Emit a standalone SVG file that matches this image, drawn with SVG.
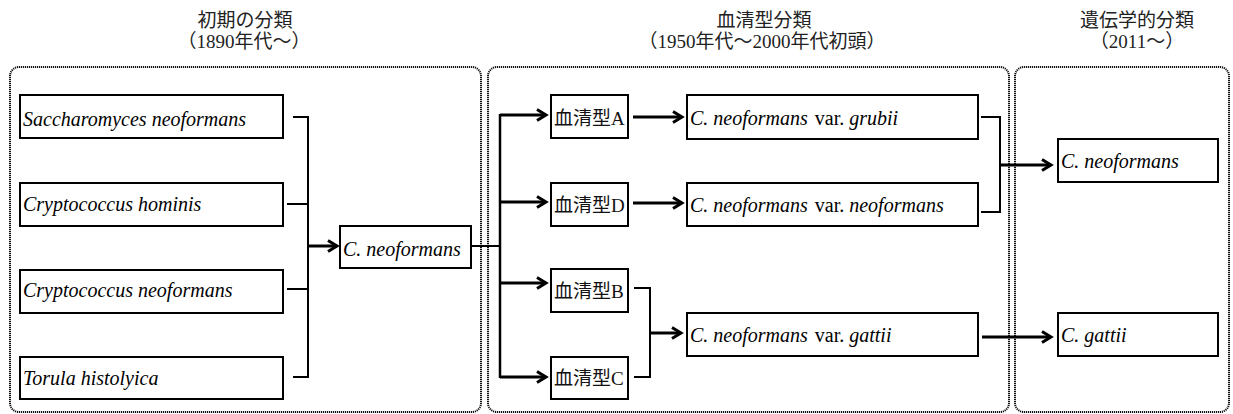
<svg xmlns="http://www.w3.org/2000/svg" width="1233" height="414" viewBox="0 0 1233 414">
<defs>
<style>
.panel{fill:none;stroke:#111;stroke-width:2;stroke-dasharray:1.2 0.8}
.box{fill:#fff;stroke:#000;stroke-width:2}
.f{font-family:'Liberation Serif','Noto Sans CJK JP',serif}
.t{font-size:20px;fill:#000}
.i{font-style:italic}
.cj{font-size:19px;fill:#111}
.h{font-size:19px;fill:#222;text-anchor:middle}
.ln{fill:none;stroke:#000;stroke-width:2}
.ar{fill:none;stroke:#000;stroke-width:3;marker-end:url(#chev)}
</style>
<marker id="chev" viewBox="0 0 14 14" refX="11" refY="7" markerWidth="14" markerHeight="14" markerUnits="userSpaceOnUse" orient="auto" overflow="visible">
<path d="M2,1.5 L11,7 L2,12.5" fill="none" stroke="#000" stroke-width="3" stroke-linejoin="miter"/>
</marker>
</defs>

<g id="diagram" class="f">
<g id="headings">
<text class="h" x="245" y="27">初期の分類</text>
<text class="h" x="244" y="48">（1890年代〜）</text>
<text class="h" x="764" y="27">血清型分類</text>
<text class="h" x="762" y="48">（1950年代〜2000年代初頭）</text>
<text class="h" x="1137" y="27">遺伝学的分類</text>
<text class="h" x="1137" y="48">（2011〜）</text>
</g>

<g id="panels">
<rect class="panel" x="10" y="67" width="471" height="345" rx="9"/>
<rect class="panel" x="488" y="67" width="521" height="345" rx="9"/>
<rect class="panel" x="1015" y="67" width="214" height="345" rx="9"/>
</g>

<g id="connectors">
<path class="ln" d="M293,117 H308 M287,204 H308 M287,289 H308 M293,377 H308 M308,116 V378"/>
<path class="ar" d="M308,246 H337"/>
<path class="ln" d="M471,246 H500"/>
<path class="ln" d="M500,114 V378" style="stroke-width:2.5"/>
<path class="ar" d="M500,115 H546"/>
<path class="ar" d="M500,202 H546"/>
<path class="ar" d="M500,283 H546"/>
<path class="ar" d="M500,377 H546"/>
<path class="ar" d="M633,117 H682"/>
<path class="ar" d="M633,203 H682"/>
<path class="ln" d="M634,288 H650 M634,377 H650 M650,287 V378"/>
<path class="ar" d="M650,333 H681"/>
<path class="ln" d="M981,117 H1000 M981,212 H1000 M1000,116 V213"/>
<path class="ar" d="M1000,165 H1051"/>
<path class="ar" d="M982,337 H1051"/>
</g>

<g id="n1"><rect class="box" x="20" y="95" width="263" height="43"/><text class="t i" x="23" y="126">Saccharomyces neoformans</text></g>
<g id="n2"><rect class="box" x="20" y="183" width="263" height="43"/><text class="t i" x="23" y="211">Cryptococcus hominis</text></g>
<g id="n3"><rect class="box" x="20" y="270" width="263" height="43"/><text class="t i" x="23" y="297">Cryptococcus neoformans</text></g>
<g id="n4"><rect class="box" x="20" y="357" width="263" height="42"/><text class="t i" x="23" y="385">Torula histolyica</text></g>
<g id="n5"><rect class="box" x="340" y="226" width="131" height="42"/><text class="t i" x="343" y="256">C. neoformans</text></g>

<g id="sA"><rect class="box" x="551" y="95" width="77" height="43"/><text class="cj" x="554" y="125">血清型A</text></g>
<g id="sD"><rect class="box" x="551" y="183" width="77" height="43"/><text class="cj" x="554" y="212">血清型D</text></g>
<g id="sB"><rect class="box" x="551" y="269" width="77" height="43"/><text class="cj" x="554" y="298">血清型B</text></g>
<g id="sC"><rect class="box" x="551" y="357" width="77" height="42"/><text class="cj" x="554" y="385">血清型C</text></g>

<g id="v1"><rect class="box" x="687" y="95" width="291" height="44"/><text class="t" x="690" y="125"><tspan class="i">C. neoformans</tspan><tspan dx="7">var.</tspan><tspan class="i" dx="5">grubii</tspan></text></g>
<g id="v2"><rect class="box" x="687" y="183" width="291" height="43"/><text class="t" x="690" y="212"><tspan class="i">C. neoformans</tspan><tspan dx="7">var.</tspan><tspan class="i" dx="5">neoformans</tspan></text></g>
<g id="v3"><rect class="box" x="687" y="313" width="291" height="43"/><text class="t" x="690" y="342"><tspan class="i">C. neoformans</tspan><tspan dx="7">var.</tspan><tspan class="i" dx="5">gattii</tspan></text></g>

<g id="g1"><rect class="box" x="1058" y="139" width="160" height="43"/><text class="t i" x="1061" y="168">C. neoformans</text></g>
<g id="g2"><rect class="box" x="1058" y="313" width="160" height="43"/><text class="t i" x="1061" y="342">C. gattii</text></g>
</g>
</svg>
